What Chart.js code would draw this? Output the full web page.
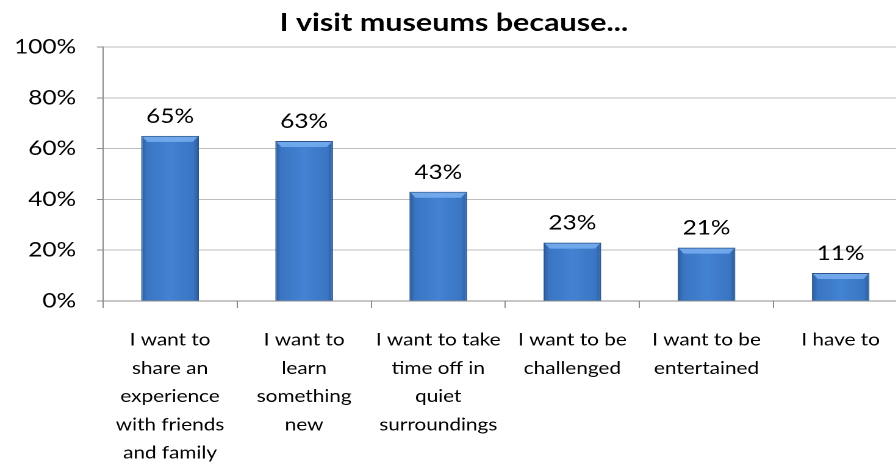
<!DOCTYPE html>
<html>
<head>
<meta charset="utf-8">
<script src="https://cdn.jsdelivr.net/npm/chart.js@4.4.1/dist/chart.umd.min.js"></script>
<style>
  html, body { margin: 0; padding: 0; background: #fff; overflow: hidden; }
  /* the original picture is stretched sideways, so draw narrower and widen it */
  #wrap { width: 744px; height: 467px; transform: scaleX(1.22); transform-origin: 0 0; }
</style>
</head>
<body>
<div id="wrap"><canvas id="museumChart"></canvas></div>
<script>
const categories = [
  ['I want to', 'share an', 'experience', 'with friends', 'and family'],
  ['I want to', 'learn', 'something', 'new'],
  ['I want to take', 'time off in', 'quiet', 'surroundings'],
  ['I want to be', 'challenged'],
  ['I want to be', 'entertained'],
  ['I have to']
];
const shares = [65, 63, 43, 23, 21, 11];
const yTickLabels = [0, 20, 40, 60, 80, 100];

const BAR_FRACTION = 0.43;
const FONT = 'Lato, "Open Sans", sans-serif';

// horizontal shading across each bar, like the old office "bevel" style
function barFill(context) {
  const chart = context.chart;
  const xs = chart.scales && chart.scales.x;
  if (!chart.chartArea || !xs) return '#3d7cc9';
  const cx = xs.getPixelForValue(context.dataIndex);
  const half = (xs.width / categories.length) * BAR_FRACTION / 2;
  const g = chart.ctx.createLinearGradient(cx - half, 0, cx + half, 0);
  g.addColorStop(0, '#2c5c9a');
  g.addColorStop(0.1, '#3a76c3');
  g.addColorStop(0.5, '#4383d3');
  g.addColorStop(0.9, '#3a76c3');
  g.addColorStop(1, '#2c5c9a');
  return g;
}

const bevelAndLabels = {
  id: 'bevelAndLabels',
  afterDatasetsDraw(chart) {
    const ctx = chart.ctx;
    const meta = chart.getDatasetMeta(0);
    ctx.save();
    meta.data.forEach((bar, i) => {
      const l = bar.x - bar.width / 2, r = bar.x + bar.width / 2, t = bar.y;
      ctx.fillStyle = 'rgba(120,175,240,0.85)';
      ctx.beginPath();
      ctx.moveTo(l + 1, t + 1);
      ctx.lineTo(r - 1, t + 1);
      ctx.lineTo(r - 5, t + 6);
      ctx.lineTo(l + 5, t + 6);
      ctx.closePath();
      ctx.fill();

      ctx.fillStyle = '#000';
      ctx.font = '20px ' + FONT;
      ctx.textAlign = 'center';
      ctx.textBaseline = 'alphabetic';
      ctx.fillText(shares[i] + '%', bar.x, t - 13);
    });
    ctx.restore();
  }
};

new Chart(document.getElementById('museumChart'), {
  type: 'bar',
  data: {
    labels: categories,
    datasets: [{
      data: shares,
      backgroundColor: barFill,
      borderColor: '#2a5690',
      borderWidth: 1,
      borderSkipped: 'bottom',
      barPercentage: BAR_FRACTION,
      categoryPercentage: 1
    }]
  },
  options: {
    responsive: true,
    maintainAspectRatio: false,
    animation: false,
    devicePixelRatio: 2,
    plugins: {
      legend: { display: false },
      tooltip: { enabled: false },
      title: {
        display: true,
        text: 'I visit museums because...',
        color: '#000',
        font: { family: FONT, size: 25, weight: 'bold', lineHeight: 1.2 },
        padding: { top: 8, bottom: 9 }
      }
    },
    scales: {
      x: {
        grid: {
          offset: true,
          drawOnChartArea: false,
          drawTicks: true,
          tickLength: 7,
          color: '#8c8c8c'
        },
        border: { color: '#8c8c8c' },
        ticks: {
          color: '#000',
          padding: 18,
          maxRotation: 0,
          autoSkip: false,
          font: { family: FONT, size: 17, lineHeight: 1.66 }
        },
        afterFit(scale) { scale.height = 166; }
      },
      y: {
        min: 0,
        max: 100,
        grid: {
          color: '#bdbdbd',
          tickLength: 5,
          tickColor: (c) => (c.tick && yTickLabels.includes(c.tick.value)) ? '#8c8c8c' : 'rgba(0,0,0,0)'
        },
        border: { color: '#8c8c8c' },
        ticks: {
          stepSize: 10,
          color: '#000',
          padding: 17,
          font: { family: FONT, size: 20 },
          callback: (v) => yTickLabels.includes(v) ? v + '%' : ''
        },
        afterFit(scale) { scale.width = 84.4; }
      }
    }
  },
  plugins: [bevelAndLabels]
});
</script>
</body>
</html>
